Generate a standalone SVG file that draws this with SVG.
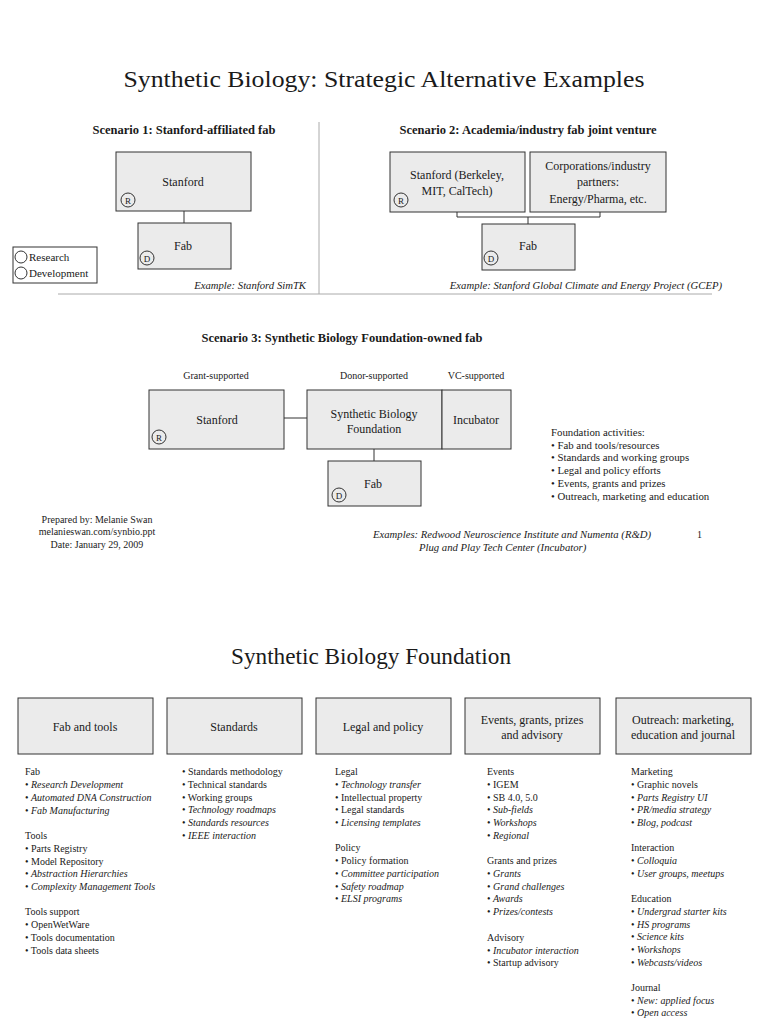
<svg xmlns="http://www.w3.org/2000/svg" width="768" height="1024" viewBox="0 0 768 1024">
<style>
text{font-family:"Liberation Serif","Times New Roman",serif;fill:#1a1a1a}
.title{font-size:24px}
.h{font-size:12.5px;font-weight:bold;text-anchor:middle}
.box{fill:#ebebeb;stroke:#333;stroke-width:1}
.lbl{font-size:12px;text-anchor:middle}
.sm{font-size:10px}
.fa{font-size:10.8px}
.lg{font-size:11px}
.smc{font-size:10px;text-anchor:middle}
.ex{font-size:10.7px;font-style:italic}
.i{font-style:italic}
.circ{fill:none;stroke:#333;stroke-width:1}
.cl{font-size:9px;text-anchor:middle}
.con{stroke:#333;stroke-width:1;fill:none}
.sep{stroke:#aaa;stroke-width:1;fill:none}
</style>
<rect width="768" height="1024" fill="#fff"/>

<text class="title" x="384" y="87" text-anchor="middle" textLength="521" lengthAdjust="spacingAndGlyphs">Synthetic Biology: Strategic Alternative Examples</text>

<g id="separators">
<line class="sep" x1="319" y1="122" x2="319" y2="294"/>
<line class="sep" x1="58" y1="294" x2="712" y2="294"/>
</g>

<text class="h" x="184" y="134">Scenario 1: Stanford-affiliated fab</text>
<text class="h" x="528" y="134">Scenario 2: Academia/industry fab joint venture</text>

<g id="connectors">
<line class="con" x1="184" y1="211" x2="184" y2="223"/>
<polyline class="con" points="457,212 457,217 600,217 600,212"/>
<line class="con" x1="528" y1="217" x2="528" y2="224"/>
<line class="con" x1="284" y1="418" x2="307" y2="418"/>
<line class="con" x1="374" y1="449" x2="374" y2="461"/>
</g>

<g id="s1-stanford">
<rect class="box" x="116" y="152" width="135" height="59"/>
<text class="lbl" x="183" y="186">Stanford</text>
<circle class="circ" cx="128" cy="200" r="7"/><text class="cl" x="128" y="203.5">R</text>
</g>
<g id="s1-fab">
<rect class="box" x="138" y="223" width="93" height="46"/>
<text class="lbl" x="183" y="250">Fab</text>
<circle class="circ" cx="147" cy="258" r="7"/><text class="cl" x="147" y="261.5">D</text>
</g>
<g id="legend">
<rect x="13" y="247" width="84" height="36" fill="#fff" stroke="#333" stroke-width="1"/>
<circle class="circ" cx="21" cy="257" r="6"/>
<text class="lg" x="29" y="260.5">Research</text>
<circle class="circ" cx="21" cy="273" r="6"/>
<text class="lg" x="29" y="276.5">Development</text>
</g>
<text class="ex" x="306" y="289" text-anchor="end">Example:  Stanford SimTK</text>

<g id="s2-stanford">
<rect class="box" x="390" y="152" width="135" height="60"/>
<text class="lbl" x="457" y="179">Stanford (Berkeley,</text>
<text class="lbl" x="457" y="195">MIT, CalTech)</text>
<circle class="circ" cx="401" cy="200" r="7"/><text class="cl" x="401" y="203.5">R</text>
</g>
<g id="s2-corporations">
<rect class="box" x="530" y="152" width="136" height="60"/>
<text class="lbl" x="598" y="170">Corporations/industry</text>
<text class="lbl" x="598" y="186">partners:</text>
<text class="lbl" x="598" y="203">Energy/Pharma, etc.</text>
</g>
<g id="s2-fab">
<rect class="box" x="482" y="224" width="93" height="46"/>
<text class="lbl" x="528" y="250">Fab</text>
<circle class="circ" cx="491" cy="258" r="7"/><text class="cl" x="491" y="261.5">D</text>
</g>
<text class="ex" x="722" y="289" text-anchor="end">Example:  Stanford Global Climate and Energy Project (GCEP)</text>

<text class="h" x="342" y="342">Scenario 3: Synthetic Biology Foundation-owned fab</text>
<text class="smc" x="216" y="379">Grant-supported</text>
<text class="smc" x="374" y="379">Donor-supported</text>
<text class="smc" x="476" y="379">VC-supported</text>

<g id="s3-stanford">
<rect class="box" x="149" y="390" width="135" height="59"/>
<text class="lbl" x="217" y="424">Stanford</text>
<circle class="circ" cx="159" cy="437" r="7"/><text class="cl" x="159" y="440.5">R</text>
</g>
<g id="s3-foundation">
<rect class="box" x="307" y="390" width="135" height="59"/>
<text class="lbl" x="374" y="418">Synthetic Biology</text>
<text class="lbl" x="374" y="433">Foundation</text>
</g>
<g id="s3-incubator">
<rect class="box" x="442" y="390" width="69" height="59"/>
<text class="lbl" x="476" y="424">Incubator</text>
</g>
<g id="s3-fab">
<rect class="box" x="328" y="461" width="93" height="45"/>
<text class="lbl" x="373" y="488">Fab</text>
<circle class="circ" cx="339" cy="495" r="7"/><text class="cl" x="339" y="498.5">D</text>
</g>

<g id="foundation-activities">
<text class="fa" x="551" y="436">Foundation activities:</text>
<text class="fa" x="551" y="449">• Fab and tools/resources</text>
<text class="fa" x="551" y="461">• Standards and working groups</text>
<text class="fa" x="551" y="474">• Legal and policy efforts</text>
<text class="fa" x="551" y="487">• Events, grants and prizes</text>
<text class="fa" x="551" y="500">• Outreach, marketing and education</text>
</g>

<g id="prepared">
<text class="smc" x="97" y="523">Prepared by: Melanie Swan</text>
<text class="smc" x="97" y="535">melanieswan.com/synbio.ppt</text>
<text class="smc" x="97" y="548">Date: January 29, 2009</text>
</g>
<text class="ex" x="373" y="538">Examples:  Redwood Neuroscience Institute and Numenta (R&amp;D)</text>
<text class="ex" x="419" y="551">Plug and Play Tech Center (Incubator)</text>
<text class="sm" x="697" y="538">1</text>

<text class="title" x="371" y="664" text-anchor="middle" textLength="280" lengthAdjust="spacingAndGlyphs">Synthetic Biology Foundation</text>

<g id="b-fab">
<rect class="box" x="18" y="698" width="135" height="56"/>
<text class="lbl" x="85" y="731">Fab and tools</text>
</g>
<g id="b-standards">
<rect class="box" x="167" y="698" width="135" height="56"/>
<text class="lbl" x="234" y="731">Standards</text>
</g>
<g id="b-legal">
<rect class="box" x="316" y="698" width="135" height="56"/>
<text class="lbl" x="383" y="731">Legal and policy</text>
</g>
<g id="b-events">
<rect class="box" x="465" y="698" width="135" height="56"/>
<text class="lbl" x="532" y="724">Events, grants, prizes</text>
<text class="lbl" x="532" y="739">and advisory</text>
</g>
<g id="b-outreach">
<rect class="box" x="616" y="698" width="135" height="56"/>
<text class="lbl" x="683" y="724">Outreach: marketing,</text>
<text class="lbl" x="683" y="739">education and journal</text>
</g>

<g id="col1">
<text class="sm" x="25" y="775">Fab</text>
<text class="sm" x="25" y="788">• <tspan class="i">Research Development</tspan></text>
<text class="sm" x="25" y="801">• <tspan class="i">Automated DNA Construction</tspan></text>
<text class="sm" x="25" y="814">• <tspan class="i">Fab Manufacturing</tspan></text>
<text class="sm" x="25" y="839">Tools</text>
<text class="sm" x="25" y="852">• Parts Registry</text>
<text class="sm" x="25" y="865">• Model Repository</text>
<text class="sm" x="25" y="877">• <tspan class="i">Abstraction Hierarchies</tspan></text>
<text class="sm" x="25" y="890">• <tspan class="i">Complexity Management Tools</tspan></text>
<text class="sm" x="25" y="915">Tools support</text>
<text class="sm" x="25" y="928">• OpenWetWare</text>
<text class="sm" x="25" y="941">• Tools documentation</text>
<text class="sm" x="25" y="954">• Tools data sheets</text>
</g>

<g id="col2">
<text class="sm" x="182" y="775">• Standards methodology</text>
<text class="sm" x="182" y="788">• Technical standards</text>
<text class="sm" x="182" y="801">• Working groups</text>
<text class="sm" x="182" y="813">• <tspan class="i">Technology roadmaps</tspan></text>
<text class="sm" x="182" y="826">• <tspan class="i">Standards resources</tspan></text>
<text class="sm" x="182" y="839">• <tspan class="i">IEEE interaction</tspan></text>
</g>

<g id="col3">
<text class="sm" x="335" y="775">Legal</text>
<text class="sm" x="335" y="788">• <tspan class="i">Technology transfer</tspan></text>
<text class="sm" x="335" y="801">• Intellectual property</text>
<text class="sm" x="335" y="813">• Legal standards</text>
<text class="sm" x="335" y="826">• <tspan class="i">Licensing templates</tspan></text>
<text class="sm" x="335" y="851">Policy</text>
<text class="sm" x="335" y="864">• Policy formation</text>
<text class="sm" x="335" y="877">• <tspan class="i">Committee participation</tspan></text>
<text class="sm" x="335" y="890">• <tspan class="i">Safety roadmap</tspan></text>
<text class="sm" x="335" y="902">• <tspan class="i">ELSI programs</tspan></text>
</g>

<g id="col4">
<text class="sm" x="487" y="775">Events</text>
<text class="sm" x="487" y="788">• IGEM</text>
<text class="sm" x="487" y="801">• SB 4.0, 5.0</text>
<text class="sm" x="487" y="813">• <tspan class="i">Sub-fields</tspan></text>
<text class="sm" x="487" y="826">• <tspan class="i">Workshops</tspan></text>
<text class="sm" x="487" y="839">• <tspan class="i">Regional</tspan></text>
<text class="sm" x="487" y="864">Grants and prizes</text>
<text class="sm" x="487" y="877">• <tspan class="i">Grants</tspan></text>
<text class="sm" x="487" y="890">• <tspan class="i">Grand challenges</tspan></text>
<text class="sm" x="487" y="902">• <tspan class="i">Awards</tspan></text>
<text class="sm" x="487" y="915">• <tspan class="i">Prizes/contests</tspan></text>
<text class="sm" x="487" y="941">Advisory</text>
<text class="sm" x="487" y="954">• <tspan class="i">Incubator interaction</tspan></text>
<text class="sm" x="487" y="966">• Startup advisory</text>
</g>

<g id="col5">
<text class="sm" x="631" y="775">Marketing</text>
<text class="sm" x="631" y="788">• Graphic novels</text>
<text class="sm" x="631" y="801">• <tspan class="i">Parts Registry UI</tspan></text>
<text class="sm" x="631" y="813">• <tspan class="i">PR/media strategy</tspan></text>
<text class="sm" x="631" y="826">• <tspan class="i">Blog, podcast</tspan></text>
<text class="sm" x="631" y="851">Interaction</text>
<text class="sm" x="631" y="864">• <tspan class="i">Colloquia</tspan></text>
<text class="sm" x="631" y="877">• <tspan class="i">User groups, meetups</tspan></text>
<text class="sm" x="631" y="902">Education</text>
<text class="sm" x="631" y="915">• <tspan class="i">Undergrad starter kits</tspan></text>
<text class="sm" x="631" y="928">• <tspan class="i">HS programs</tspan></text>
<text class="sm" x="631" y="940">• <tspan class="i">Science kits</tspan></text>
<text class="sm" x="631" y="953">• <tspan class="i">Workshops</tspan></text>
<text class="sm" x="631" y="966">• <tspan class="i">Webcasts/videos</tspan></text>
<text class="sm" x="631" y="991">Journal</text>
<text class="sm" x="631" y="1004">• <tspan class="i">New: applied focus</tspan></text>
<text class="sm" x="631" y="1016">• <tspan class="i">Open access</tspan></text>
</g>
</svg>
